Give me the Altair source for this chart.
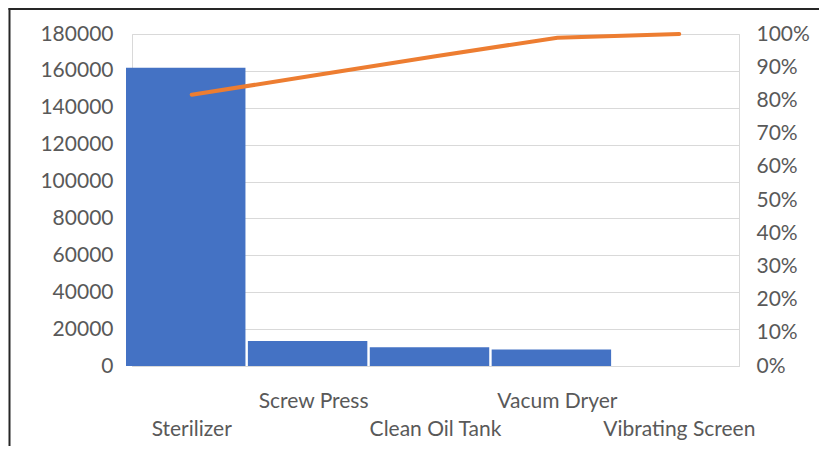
import altair as alt
import pandas as pd

categories = ["Sterilizer", "Screw Press", "Clean Oil Tank", "Vacum Dryer", "Vibrating Screen"]
counts = [161700, 13500, 10100, 9000, 0]
cum_pct = [0.817, 0.875, 0.933, 0.989, 1.0]

df = pd.DataFrame({"cat": categories, "count": counts, "pct": cum_pct})

FONT = "Lato"
LABEL_COLOR = "#595959"
GRID = "#d9d9d9"

x_enc = alt.X(
    "cat:N",
    sort=categories,
    scale=alt.Scale(paddingInner=0.02, paddingOuter=0),
    axis=alt.Axis(
        title=None,
        labelAngle=0,
        ticks=False,
        domainColor=GRID,
        domainWidth=1,
        labelFont=FONT,
        labelFontSize=21,
        labelColor=LABEL_COLOR,
        labelPadding=24,
        labelLineHeight=28,
        labelOverlap=False,
        labelExpr="indexof(['Screw Press','Vacum Dryer'], datum.value) >= 0 ? datum.value : ['', datum.value]",
    ),
)

bars = alt.Chart(df).mark_bar(color="#4472C4", xOffset=-6).encode(
    x=x_enc,
    y=alt.Y(
        "count:Q",
        scale=alt.Scale(domain=[0, 180000], nice=False),
        axis=alt.Axis(
            title=None,
            values=list(range(0, 180001, 20000)),
            format="d",
            domain=False,
            ticks=False,
            grid=True,
            gridColor=GRID,
            labelFont=FONT,
            labelFontSize=21,
            labelColor=LABEL_COLOR,
            labelPadding=19,
            orient="left",
        ),
    ),
)

line = alt.Chart(df).mark_line(color="#ED7D31", strokeWidth=4, strokeCap="round").encode(
    x=alt.X("cat:N", sort=categories),
    y=alt.Y(
        "pct:Q",
        scale=alt.Scale(domain=[0, 1], nice=False),
        axis=alt.Axis(
            title=None,
            values=[i / 10 for i in range(11)],
            format=".0%",
            domain=False,
            ticks=False,
            grid=False,
            labelFont=FONT,
            labelFontSize=21,
            labelColor=LABEL_COLOR,
            labelPadding=17,
            orient="right",
        ),
    ),
)

one = pd.DataFrame({"a": [0]})
frame_left = alt.Chart(one).mark_rule(color="#262626", strokeWidth=2).encode(
    x=alt.value(-122.5), y=alt.value(-26), y2=alt.value(420)
)
frame_top = alt.Chart(one).mark_rule(color="#262626", strokeWidth=2).encode(
    x=alt.value(-123.5), x2=alt.value(700), y=alt.value(-25)
)

chart = (
    alt.layer(bars, line, frame_left, frame_top)
    .resolve_scale(y="independent")
    .properties(
        width=607,
        height=332,
        padding={"left": 124, "top": 26, "right": 80, "bottom": 80},
        autosize=alt.AutoSizeParams(type="none"),
        background="white",
    )
    .configure_view(stroke=GRID, strokeWidth=1)
)

chart.save("out.html", embed_options={"renderer": "svg", "actions": False})
